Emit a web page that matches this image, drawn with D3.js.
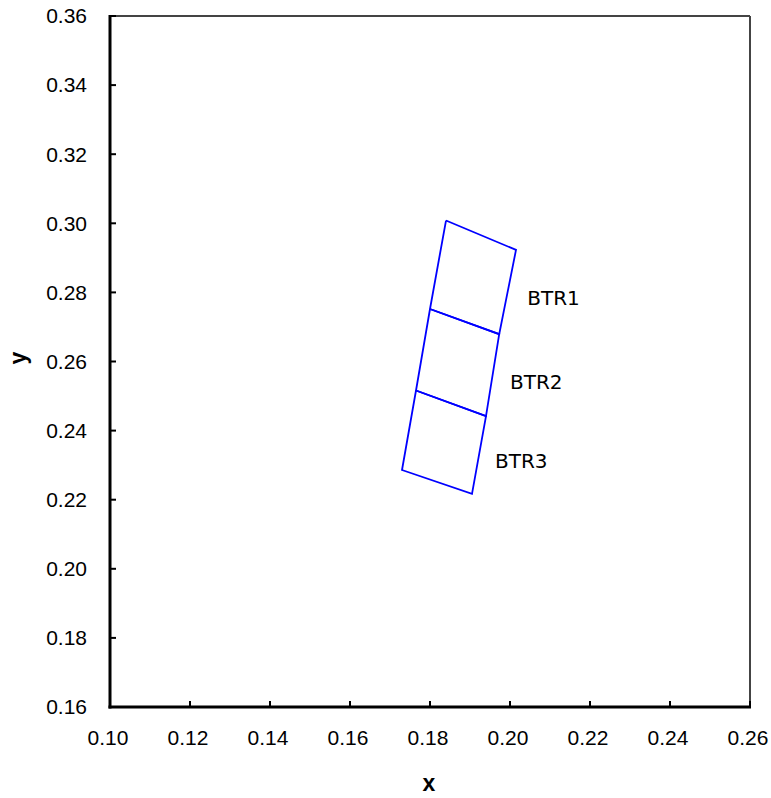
<!DOCTYPE html>
<html>
<head>
<meta charset="utf-8">
<script src="https://cdn.jsdelivr.net/npm/d3@7"></script>
<style>
  html, body { margin: 0; padding: 0; background: #fff; }
  .tick-label { font-family: "Liberation Sans", Arial, sans-serif; font-size: 21px; fill: #000; }
  .axis-title { font-family: "Liberation Sans", Arial, sans-serif; font-size: 23px; font-weight: bold; fill: #000; }
  .region-label { font-family: "DejaVu Sans", sans-serif; font-size: 20px; fill: #000; }
</style>
</head>
<body>
<div id="chart"></div>
<script>
// region names and corner points (left edge and right edge, top to bottom)
const regionNames = ['BTR1', 'BTR2', 'BTR3'];
const leftEdgeX = [0.1840, 0.1800, 0.1765, 0.1730];
const leftEdgeY = [0.3008, 0.2752, 0.2516, 0.2286];
const rightEdgeX = [0.2015, 0.1973, 0.1940, 0.1905];
const rightEdgeY = [0.2923, 0.2679, 0.2442, 0.2217];

// label anchor points
const labelX = [0.2043, 0.2000, 0.19625];
const labelY = [0.2784, 0.2541, 0.2312];

const xTicks = [0.10, 0.12, 0.14, 0.16, 0.18, 0.20, 0.22, 0.24, 0.26];
const yTicks = [0.16, 0.18, 0.20, 0.22, 0.24, 0.26, 0.28, 0.30, 0.32, 0.34, 0.36];

document.addEventListener('DOMContentLoaded', function(){
  drawChart();
});

function drawChart() {
  const width = 771, height = 798;
  const left = 110, right = 750, top = 16, bottom = 707;

  const svg = d3.select('#chart').append('svg')
    .attr('width', width).attr('height', height);

  const x = d3.scaleLinear().domain([0.10, 0.26]).range([left, right]);
  const y = d3.scaleLinear().domain([0.16, 0.36]).range([bottom, top]);

  // top and right frame
  svg.append('line').attr('x1', left).attr('x2', right).attr('y1', top).attr('y2', top)
    .attr('stroke', '#444').attr('stroke-width', 2);
  svg.append('line').attr('x1', right).attr('x2', right).attr('y1', top).attr('y2', bottom)
    .attr('stroke', '#444').attr('stroke-width', 2);

  // ticks (inward)
  svg.selectAll('.xtick').data(xTicks).enter().append('line')
    .attr('x1', d => x(d)).attr('x2', d => x(d))
    .attr('y1', bottom).attr('y2', bottom - 6)
    .attr('stroke', '#000').attr('stroke-width', 2);
  svg.selectAll('.ytick').data(yTicks).enter().append('line')
    .attr('x1', left).attr('x2', left + 6)
    .attr('y1', d => y(d)).attr('y2', d => y(d))
    .attr('stroke', '#000').attr('stroke-width', 2);

  // left and bottom axes
  svg.append('line').attr('x1', left).attr('x2', left).attr('y1', top - 1).attr('y2', bottom + 1.5)
    .attr('stroke', '#000').attr('stroke-width', 3);
  svg.append('line').attr('x1', left - 1.5).attr('x2', right + 1).attr('y1', bottom).attr('y2', bottom)
    .attr('stroke', '#000').attr('stroke-width', 3);

  // tick labels
  svg.selectAll('.xlab').data(xTicks).enter().append('text')
    .attr('class', 'tick-label')
    .attr('x', d => x(d) - 2).attr('y', 745)
    .attr('text-anchor', 'middle')
    .text(d => d.toFixed(2));
  svg.selectAll('.ylab').data(yTicks).enter().append('text')
    .attr('class', 'tick-label')
    .attr('x', 87).attr('y', d => y(d))
    .attr('dy', '0.35em')
    .attr('text-anchor', 'end')
    .text(d => d.toFixed(2));

  // axis titles
  svg.append('text').attr('class', 'axis-title')
    .attr('x', 429).attr('y', 791).attr('text-anchor', 'middle').text('x');
  svg.append('text').attr('class', 'axis-title')
    .attr('transform', 'translate(26,358) rotate(-90)')
    .attr('text-anchor', 'middle').text('y');

  // regions
  const line = d3.line().x(d => x(d[0])).y(d => y(d[1]));
  regionNames.forEach(function(name, i) {
    const pts = [
      [leftEdgeX[i], leftEdgeY[i]],
      [rightEdgeX[i], rightEdgeY[i]],
      [rightEdgeX[i + 1], rightEdgeY[i + 1]],
      [leftEdgeX[i + 1], leftEdgeY[i + 1]],
      [leftEdgeX[i], leftEdgeY[i]]
    ];
    svg.append('path')
      .attr('d', line(pts))
      .attr('fill', 'none')
      .attr('stroke', '#0000ff')
      .attr('stroke-width', 1.8);

    svg.append('text')
      .attr('class', 'region-label')
      .attr('x', x(labelX[i])).attr('y', y(labelY[i]))
      .attr('dy', '0.36em')
      .text(name);
  });
}
</script>
</body>
</html>
